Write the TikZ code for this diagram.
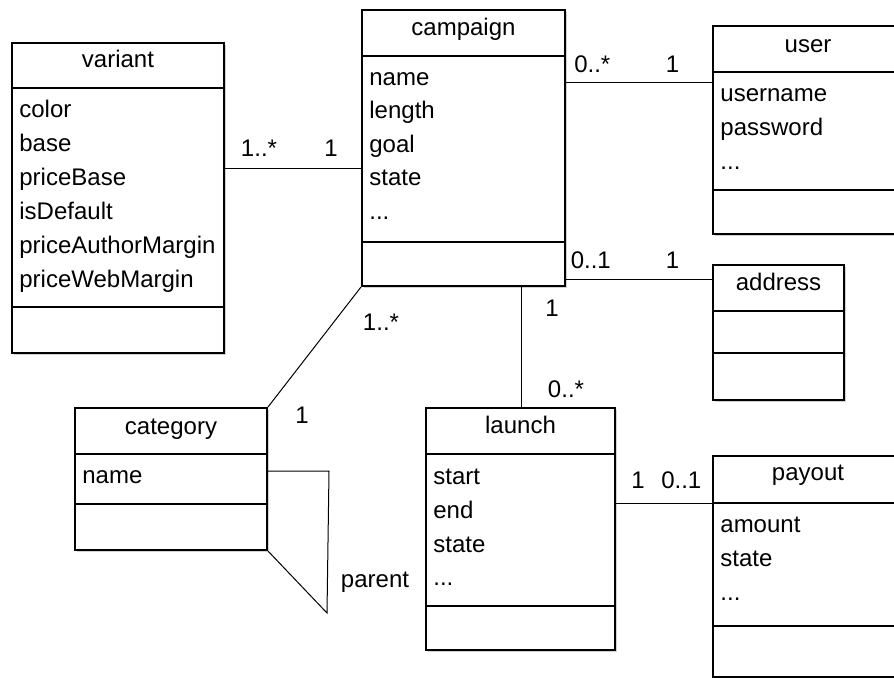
\documentclass[tikz,border=0pt]{standalone}
\usepackage{fontspec}
\setmainfont{Liberation Sans}
\usetikzlibrary{shadows}

\begin{document}
\begin{tikzpicture}[x=0.5pt, y=-0.5pt,
        every node/.style={font=\fontsize{12}{14}\selectfont, inner sep=0pt},
        classbox/.style={draw, line width=1pt, fill=white, anchor=north west,
            drop shadow={shadow xshift=0.8pt, shadow yshift=-0.8pt, fill=black!18, opacity=1}},
        splitline/.style={line width=1pt},
        classtitle/.style={anchor=base},
        attrtext/.style={anchor=base west},
        assoc/.style={line width=0.5pt},
        mult/.style={anchor=base}]
                \clip (0,0) rectangle (894,677);

                % Classes
                \node[classbox, minimum width=106pt, minimum height=155pt] (variant) at (11,42) {};
                \node[classbox, minimum width=101.5pt, minimum height=138pt] (campaign) at (361,9) {};
                \node[classbox, minimum width=95pt, minimum height=104pt] (user) at (712,25) {};
                \node[classbox, minimum width=65.5pt, minimum height=67.5pt] (address) at (712,264) {};
                \node[classbox, minimum width=96pt, minimum height=71pt] (category) at (74,407) {};
                \node[classbox, minimum width=94.5pt, minimum height=121pt] (launch) at (425,407) {};
                \node[classbox, minimum width=95pt, minimum height=110.5pt] (payout) at (712,455) {};

                % Compartments
                \draw[splitline] (variant.west |- 0,88) -- (variant.east |- 0,88);
                \draw[splitline] (variant.west |- 0,307) -- (variant.east |- 0,307);
                \draw[splitline] (campaign.west |- 0,56) -- (campaign.east |- 0,56);
                \draw[splitline] (campaign.west |- 0,242) -- (campaign.east |- 0,242);
                \draw[splitline] (user.west |- 0,72) -- (user.east |- 0,72);
                \draw[splitline] (user.west |- 0,190) -- (user.east |- 0,190);
                \draw[splitline] (address.west |- 0,311) -- (address.east |- 0,311);
                \draw[splitline] (address.west |- 0,353) -- (address.east |- 0,353);
                \draw[splitline] (category.west |- 0,454) -- (category.east |- 0,454);
                \draw[splitline] (category.west |- 0,504) -- (category.east |- 0,504);
                \draw[splitline] (launch.west |- 0,454) -- (launch.east |- 0,454);
                \draw[splitline] (launch.west |- 0,606) -- (launch.east |- 0,606);
                \draw[splitline] (payout.west |- 0,503) -- (payout.east |- 0,503);
                \draw[splitline] (payout.west |- 0,626) -- (payout.east |- 0,626);

                % Titles
                \node[classtitle] (variant-title) at (variant.north |- 0,67) {variant};
                \node[classtitle] (campaign-title) at (campaign.north |- 0,35) {campaign};
                \node[classtitle] (user-title) at (user.north |- 0,52) {user};
                \node[classtitle] (address-title) at (address.north |- 0,290) {address};
                \node[classtitle] (category-title) at (category.north |- 0,434) {category};
                \node[classtitle] (launch-title) at (launch.north |- 0,433) {launch};
                \node[classtitle] (payout-title) at (payout.north |- 0,480) {payout};

                % Attributes
                \foreach \a [count=\i] in {color, base, priceBase, isDefault, priceAuthorMargin, priceWebMargin}
                    \node[attrtext] (variant-\i) at (19, {117+34*(\i-1)}) {\a};
                \foreach \a [count=\i] in {name, length, goal, state}
                    \node[attrtext] (campaign-\i) at (369, {85+33.5*(\i-1)}) {\a};
                \node[attrtext] (campaign-dots) at (369,219) {...};
                \foreach \a [count=\i] in {username, password}
                    \node[attrtext] (user-\i) at (720, {101+34*(\i-1)}) {\a};
                \node[attrtext] (user-dots) at (720,169) {...};
                \node[attrtext] (category-1) at (82,483) {name};
                \foreach \a [count=\i] in {start, end, state}
                    \node[attrtext] (launch-\i) at (433, {484+34*(\i-1)}) {\a};
                \node[attrtext] (launch-dots) at (433,585) {...};
                \foreach \a [count=\i] in {amount, state}
                    \node[attrtext] (payout-\i) at (720, {532+34*(\i-1)}) {\a};
                \node[attrtext] (payout-dots) at (720,600) {...};

                % Associations
                \coordinate (self-a) at (329,471);
                \coordinate (self-b) at (327,613);

                \draw[assoc] (variant.east |- 0,168) -- (campaign.west |- 0,168)
                    node[mult, pos=0.25, yshift=6pt] (m-var) {1..*}
                    node[mult, pos=0.78, yshift=6pt] (m-var-camp) {1};

                \draw[assoc] (campaign.east |- 0,82) -- (user.west |- 0,82)
                    node[mult, pos=0.18, yshift=5pt] (m-camp-user) {0..*}
                    node[mult, pos=0.73, yshift=5pt] (m-user) {1};

                \draw[assoc] (campaign.east |- 0,279) -- (address.west |- 0,279)
                    node[mult, pos=0.17, yshift=5.5pt] (m-camp-addr) {0..1}
                    node[mult, pos=0.73, yshift=5.5pt] (m-addr) {1};

                \draw[assoc] (521,0 |- campaign.south) -- (521,0 |- launch.north)
                    node[mult, pos=0.18, anchor=center, xshift=15.5pt] (m-camp-launch) {1}
                    node[mult, pos=0.85, anchor=center, xshift=22.5pt] (m-launch) {0..*};

                \draw[assoc] (launch.east |- 0,503) -- (payout.west |- 0,503)
                    node[mult, pos=0.23, yshift=7.5pt] (m-launch-pay) {1}
                    node[mult, pos=0.68, yshift=7.5pt] (m-pay) {0..1};

                \draw[assoc] (campaign.south west) -- (category.north east)
                    node[mult, pos=0, anchor=center, xshift=10pt, yshift=-17.5pt] (m-camp-cat) {1..*}
                    node[mult, pos=1, anchor=center, xshift=17pt, yshift=-4pt] (m-cat) {1};

                \draw[assoc] (category.east |- 0,471) -- (self-a) -- (self-b) -- (category.south east);
                \node[mult, anchor=center] (parent) at (375,582) {parent};
            \end{tikzpicture}
\end{document}
